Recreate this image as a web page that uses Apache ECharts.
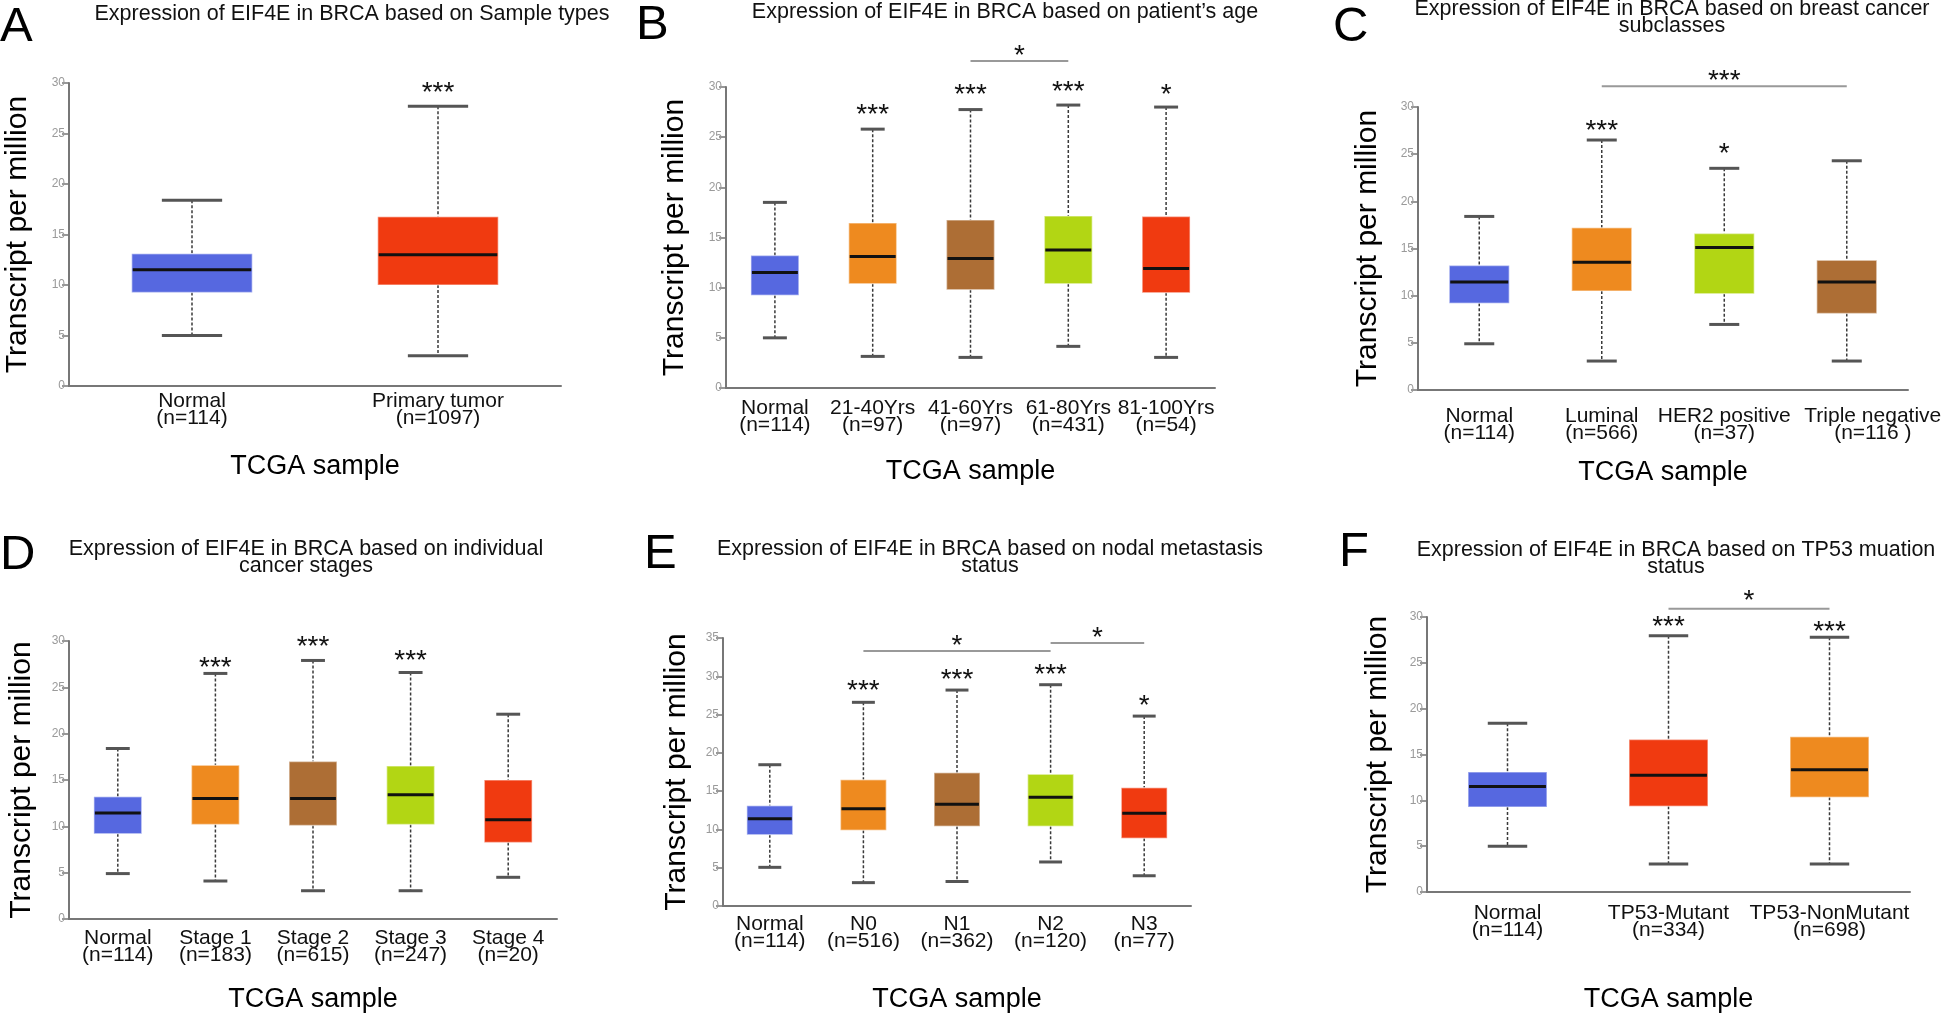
<!DOCTYPE html>
<html>
<head>
<meta charset="utf-8">
<title>EIF4E expression in BRCA</title>
<script src="https://cdn.jsdelivr.net/npm/echarts@6.0.0/dist/echarts.min.js"></script>
<style>
  html, body { margin: 0; padding: 0; background: #fff; }
  #chart { width: 1944px; height: 1016px; }
</style>
</head>
<body>
<div id="chart"></div>
<script>
// box values are [min, q1, median, q3, max]

// A - sample types
const catsA = ['Normal\n(n=114)', 'Primary tumor\n(n=1097)'];
const boxA = [[5.0, 9.25, 11.5, 13.1, 18.4], [3.0, 10.0, 13.0, 16.75, 27.7]];
const starsA = ['', '***'];
const starYA = [null, 29.4];
const bracketsA = [];
const bracketTextA = [];

// B - patient's age
const catsB = ['Normal\n(n=114)', '21-40Yrs\n(n=97)', '41-60Yrs\n(n=97)', '61-80Yrs\n(n=431)', '81-100Yrs\n(n=54)'];
const boxB = [
  [5.0, 9.25, 11.5, 13.2, 18.5],
  [3.15, 10.4, 13.1, 16.45, 25.8],
  [3.05, 9.8, 12.9, 16.75, 27.75],
  [4.15, 10.4, 13.75, 17.15, 28.2],
  [3.05, 9.5, 11.9, 17.1, 28.0]
];
const starsB = ['', '***', '***', '***', '*'];
const starYB = [null, 27.6, 29.6, 29.9, 29.6];
const bracketsB = [[2, 3, 32.6, 33.5]];
const bracketTextB = ['*'];

// C - breast cancer subclasses
const catsC = ['Normal\n(n=114)', 'Luminal\n(n=566)', 'HER2 positive\n(n=37)', 'Triple negative\n(n=116 )'];
const boxC = [
  [4.9, 9.2, 11.45, 13.2, 18.4],
  [3.07, 10.5, 13.55, 17.2, 26.5],
  [6.95, 10.2, 15.1, 16.6, 23.5],
  [3.07, 8.1, 11.45, 13.75, 24.3]
];
const starsC = ['', '***', '*', ''];
const starYC = [null, 27.9, 25.4, null];
const bracketsC = [[1, 3, 32.2, 33.1]];
const bracketTextC = ['***'];

// D - cancer stages
const catsD = ['Normal\n(n=114)', 'Stage 1\n(n=183)', 'Stage 2\n(n=615)', 'Stage 3\n(n=247)', 'Stage 4\n(n=20)'];
const boxD = [
  [4.9, 9.2, 11.45, 13.2, 18.4],
  [4.1, 10.2, 13.0, 16.6, 26.5],
  [3.05, 10.1, 13.0, 17.0, 27.9],
  [3.05, 10.2, 13.4, 16.5, 26.6],
  [4.5, 8.25, 10.7, 15.0, 22.1]
];
const starsD = ['', '***', '***', '***', ''];
const starYD = [null, 27.5, 29.8, 28.2, null];
const bracketsD = [];
const bracketTextD = [];

// E - nodal metastasis status
const catsE = ['Normal\n(n=114)', 'N0\n(n=516)', 'N1\n(n=362)', 'N2\n(n=120)', 'N3\n(n=77)'];
const boxE = [
  [5.05, 9.3, 11.4, 13.1, 18.45],
  [3.05, 9.9, 12.7, 16.5, 26.6],
  [3.2, 10.4, 13.3, 17.4, 28.2],
  [5.75, 10.4, 14.2, 17.2, 28.9],
  [3.95, 8.85, 12.1, 15.45, 24.8]
];
const starsE = ['', '***', '***', '***', '*'];
const starYE = [null, 28.5, 30.0, 30.6, 26.6];
const bracketsE = [[1, 3, 33.3, 34.4], [3, 4, 34.35, 35.5]];
const bracketTextE = ['*', '*'];

// F - TP53 mutation status
const catsF = ['Normal\n(n=114)', 'TP53-Mutant\n(n=334)', 'TP53-NonMutant\n(n=698)'];
const boxF = [
  [4.98, 9.27, 11.5, 13.1, 18.4],
  [3.05, 9.35, 12.75, 16.65, 27.95],
  [3.05, 10.35, 13.35, 16.95, 27.8]
];
const starsF = ['', '***', '***'];
const starYF = [null, 29.35, 28.8];
const bracketsF = [[1, 2, 30.9, 32.2]];
const bracketTextF = ['*'];

const BLUE = '#5668E0', ORANGE = '#EE8A1F', BROWN = '#AD6E35', LIME = '#B2D614', RED = '#F03A10';
const FONT = '"Liberation Sans", Arial, Helvetica, sans-serif';

const panels = [
  { letter: 'A', cats: catsA, box: boxA, stars: starsA, starY: starYA, brackets: bracketsA, bracketText: bracketTextA,
    colors: [BLUE, RED], yMax: 30,
    grid: { left: 69, top: 83, width: 492, height: 303 },
    title: 'Expression of EIF4E in BRCA based on Sample types', titleX: 352, titleTop: 6,
    letterX: 0, letterTop: 3, gapY: 36, gapX: 67, labelMargin: 7 },
  { letter: 'B', cats: catsB, box: boxB, stars: starsB, starY: starYB, brackets: bracketsB, bracketText: bracketTextB,
    colors: [BLUE, ORANGE, BROWN, LIME, RED], yMax: 30,
    grid: { left: 726, top: 87, width: 489, height: 301 },
    title: 'Expression of EIF4E in BRCA based on patient\u2019s age', titleX: 1005, titleTop: 4,
    letterX: 636, letterTop: 1, gapY: 36, gapX: 70, labelMargin: 12 },
  { letter: 'C', cats: catsC, box: boxC, stars: starsC, starY: starYC, brackets: bracketsC, bracketText: bracketTextC,
    colors: [BLUE, ORANGE, LIME, BROWN], yMax: 30, labelPadLeft: { 3: 52 },
    grid: { left: 1418, top: 107, width: 492, height: 283 },
    title: 'Expression of EIF4E in BRCA based on breast cancer\nsubclasses', titleX: 1672, titleTop: 1,
    letterX: 1333, letterTop: 3, gapY: 35, gapX: 69, labelMargin: 18 },
  { letter: 'D', cats: catsD, box: boxD, stars: starsD, starY: starYD, brackets: bracketsD, bracketText: bracketTextD,
    colors: [BLUE, ORANGE, BROWN, LIME, RED], yMax: 30,
    grid: { left: 69, top: 641, width: 488, height: 278 },
    title: 'Expression of EIF4E in BRCA based on individual\ncancer stages', titleX: 306, titleTop: 541,
    letterX: 0, letterTop: 531, gapY: 32, gapX: 67, labelMargin: 11 },
  { letter: 'E', cats: catsE, box: boxE, stars: starsE, starY: starYE, brackets: bracketsE, bracketText: bracketTextE,
    colors: [BLUE, ORANGE, BROWN, LIME, RED], yMax: 35,
    grid: { left: 723, top: 638, width: 468, height: 268 },
    title: 'Expression of EIF4E in BRCA based on nodal metastasis\nstatus', titleX: 990, titleTop: 541,
    letterX: 644, letterTop: 530, gapY: 31, gapX: 80, labelMargin: 10 },
  { letter: 'F', cats: catsF, box: boxF, stars: starsF, starY: starYF, brackets: bracketsF, bracketText: bracketTextF,
    colors: [BLUE, RED, ORANGE], yMax: 30,
    grid: { left: 1427, top: 617, width: 483, height: 275 },
    title: 'Expression of EIF4E in BRCA based on TP53 muation\nstatus', titleX: 1676, titleTop: 542,
    letterX: 1339, letterTop: 528, gapY: 34, gapX: 94, labelMargin: 13 }
];

function boxRenderer(colors) {
  return function (params, api) {
    const i = api.value(0);
    const cx = api.coord([i, 0])[0];
    const w = api.size([1, 0])[0] * 0.49;
    const y = v => api.coord([i, v])[1];
    const lo = y(api.value(1)), q1 = y(api.value(2)), med = y(api.value(3)), q3 = y(api.value(4)), hi = y(api.value(5));
    const cap = w * 0.25;
    const dash = { stroke: '#3a3a3a', lineWidth: 1.5, lineDash: [3, 2] };
    const capStyle = { stroke: '#555', lineWidth: 3 };
    return {
      type: 'group',
      children: [
        { type: 'line', shape: { x1: cx, y1: hi, x2: cx, y2: q3 }, style: dash },
        { type: 'line', shape: { x1: cx, y1: q1, x2: cx, y2: lo }, style: dash },
        { type: 'rect', shape: { x: cx - w / 2, y: q3, width: w, height: q1 - q3 },
          style: { fill: colors[i], stroke: 'rgba(255,255,255,0.45)', lineWidth: 1.5 } },
        { type: 'line', shape: { x1: cx - w / 2 + 1, y1: med, x2: cx + w / 2 - 1, y2: med }, style: { stroke: '#111', lineWidth: 3 } },
        { type: 'line', shape: { x1: cx - cap, y1: hi, x2: cx + cap, y2: hi }, style: capStyle },
        { type: 'line', shape: { x1: cx - cap, y1: lo, x2: cx + cap, y2: lo }, style: capStyle }
      ]
    };
  };
}

function starRenderer(stars) {
  return function (params, api) {
    const p = api.coord([api.value(0), api.value(1)]);
    return {
      type: 'text', x: p[0], y: p[1] + 4,
      style: { text: stars[api.value(0)], font: '28px ' + FONT, fill: '#111', align: 'center', verticalAlign: 'middle' }
    };
  };
}

function bracketRenderer(texts) {
  return function (params, api) {
    const a = api.coord([api.value(0), api.value(2)]);
    const b = api.coord([api.value(1), api.value(2)]);
    const s = api.coord([api.value(0), api.value(3)]);
    return {
      type: 'group',
      children: [
        { type: 'line', shape: { x1: a[0], y1: a[1], x2: b[0], y2: b[1] }, style: { stroke: '#999', lineWidth: 2 } },
        { type: 'text', x: (a[0] + b[0]) / 2, y: s[1] + 4,
          style: { text: texts[params.dataIndex], font: '28px ' + FONT, fill: '#111', align: 'center', verticalAlign: 'middle' } }
      ]
    };
  };
}

const grids = [], xAxes = [], yAxes = [], titles = [], series = [];

panels.forEach((p, k) => {
  grids.push(Object.assign({ containLabel: false }, p.grid));
  titles.push({
    text: p.title, left: p.titleX, top: p.titleTop, textAlign: 'center', padding: 0,
    textStyle: { fontFamily: FONT, fontSize: 21.5, fontWeight: 'normal', color: '#111', lineHeight: 16.5 }
  });
  titles.push({
    text: p.letter, left: p.letterX, top: p.letterTop, padding: 0,
    textStyle: { fontFamily: FONT, fontSize: 49, fontWeight: 'normal', color: '#000' }
  });
  const pads = p.labelPadLeft || {};
  xAxes.push({
    type: 'category', gridIndex: k,
    data: p.cats.map((c, i) => pads[i] ? { value: c, textStyle: { padding: [0, 0, 0, pads[i]] } } : c),
    name: 'TCGA sample', nameLocation: 'middle', nameGap: p.gapX,
    nameTextStyle: { fontFamily: FONT, fontSize: 27, color: '#000' },
    axisLine: { lineStyle: { color: '#777', width: 2 } },
    axisTick: { show: false },
    axisLabel: { interval: 0, margin: p.labelMargin, fontFamily: FONT, fontSize: 21, lineHeight: 17, color: '#111' }
  });
  yAxes.push({
    type: 'value', gridIndex: k, min: 0, max: p.yMax, interval: 5,
    name: 'Transcript per million', nameLocation: 'middle', nameRotate: 90, nameGap: p.gapY,
    nameTextStyle: { fontFamily: FONT, fontSize: 30, color: '#000' },
    axisLine: { show: true, lineStyle: { color: '#777', width: 2 } },
    axisTick: { show: true, length: 7, lineStyle: { color: '#777', width: 1.5 } },
    axisLabel: { fontFamily: FONT, fontSize: 12, color: '#9a9a9a', margin: 4 },
    splitLine: { show: false }
  });
  series.push({
    type: 'custom', xAxisIndex: k, yAxisIndex: k,
    renderItem: boxRenderer(p.colors),
    encode: { x: 0, y: [1, 2, 3, 4, 5] },
    data: p.box.map((b, i) => [i].concat(b))
  });
  series.push({
    type: 'custom', xAxisIndex: k, yAxisIndex: k,
    renderItem: starRenderer(p.stars),
    encode: { x: 0, y: 1 },
    data: p.starY.map((v, i) => [i, v]).filter(d => d[1] != null)
  });
  if (p.brackets.length) {
    series.push({
      type: 'custom', xAxisIndex: k, yAxisIndex: k,
      renderItem: bracketRenderer(p.bracketText),
      encode: { x: 0, y: 2 },
      data: p.brackets
    });
  }
});

const myChart = echarts.init(document.getElementById('chart'));
const option = {
  backgroundColor: '#fff',
  animation: false,
  title: titles,
  grid: grids,
  xAxis: xAxes,
  yAxis: yAxes,
  series: series
};
myChart.setOption(option);
</script>
</body>
</html>
